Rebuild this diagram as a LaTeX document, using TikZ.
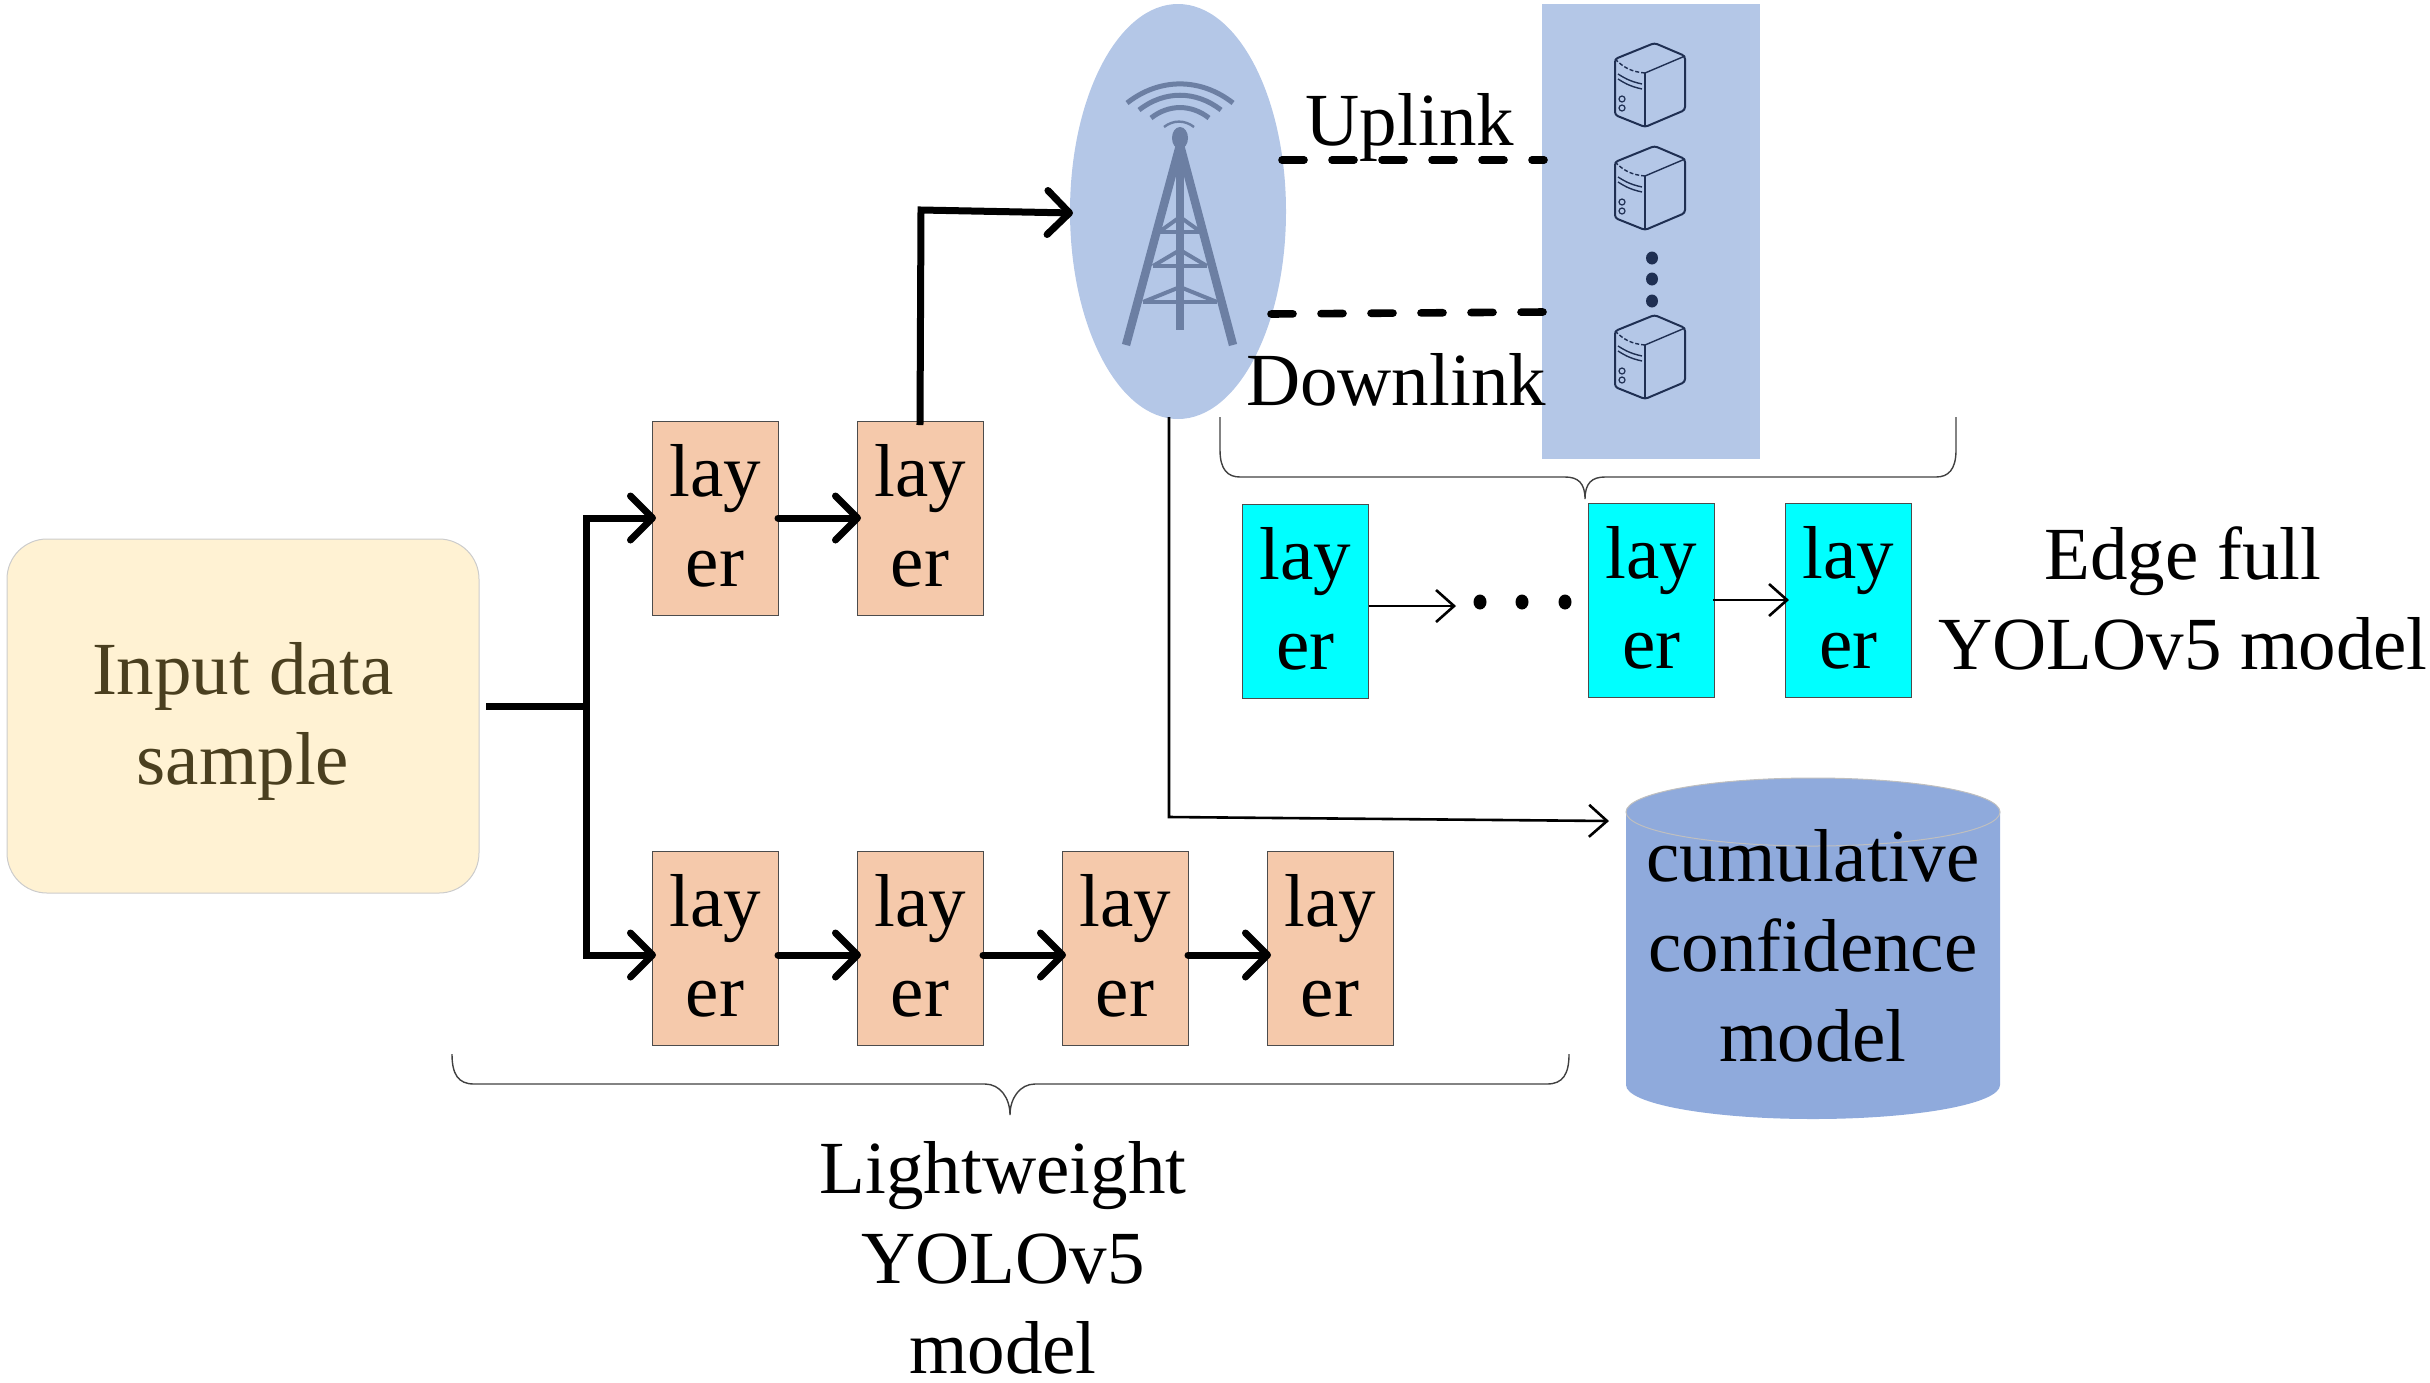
\documentclass[tikz,border=0pt]{standalone}
\usepackage{fontspec}
\setmainfont{Liberation Serif}
\usetikzlibrary{shapes.geometric, arrows.meta, positioning, calc}

\definecolor{LayerOrange}{HTML}{F5C9AB}
\definecolor{LayerCyan}{HTML}{00FFFF}
\definecolor{InputYellow}{HTML}{FFF2D3}
\definecolor{InputText}{HTML}{4A3F1F}
\definecolor{EdgeBlue}{HTML}{B4C7E7}
\definecolor{TowerBlue}{HTML}{6C7FA3}
\definecolor{ServerNavy}{HTML}{1F2F52}
\definecolor{DbBlue}{HTML}{8FAADC}

\newcommand{\layertext}{lay\\er\rule[-3pt]{0pt}{3pt}}

\tikzset{
	server/.pic={
		\draw[ServerNavy, line width=1pt, line join=round, rounded corners=1.5pt]
			(4.5,-42) -- (35,-29) -- (35,25) -- (-5,42) -- (-35,30) -- (-35,-26) -- cycle;
		\draw[ServerNavy, line width=.7pt] (-5,-12) -- (35,-29);
		\draw[ServerNavy, line width=.7pt] (-5,-12) -- (-5,42);
		\draw[ServerNavy, line width=.7pt, dash pattern=on 2pt off 1pt] (-35,-26) to[bend right=20] (-5,-12);
		\draw[ServerNavy, line width=.7pt] (-32,-11) to[bend right=10] (-8,-1);
		\draw[ServerNavy, line width=.7pt] (-32,-6) to[bend right=10] (-8,4);
		\draw[ServerNavy, line width=.6pt] (-28,14) circle (3);
		\draw[ServerNavy, line width=.6pt] (-28,23) circle (3);
	}
}

\begin{document}
\begin{tikzpicture}[
		x=0.5pt, y=-0.5pt,
		every node/.style={font=\fontsize{37.5}{45}\selectfont, inner sep=0pt, outer sep=0pt, align=center},
		BoldLine/.style={line width=3.5pt, line cap=round},
		BoldArrow/.style={line width=3.5pt, line cap=round, -{Straight Barb[length=11pt,width=22pt,round]}, shorten >=-2pt},
		ThinArrow/.style={line width=1.3pt, -{Straight Barb[length=9pt,width=16pt]}},
		DashLine/.style={line width=3.8pt, line cap=round, dash pattern=on 11pt off 14pt},
		BraceLine/.style={line width=.7pt, black!75},
		TowerLine/.style={TowerBlue, line width=2pt},
		WaveLine/.style={TowerBlue, line width=2pt, bend left=38}
	]
	\tikzstyle{LayerNode} = [ %same box for both models
		rectangle,
		draw=black!70,
		line width=.5pt,
		minimum width=63pt,
		minimum height=97pt
	]
	\tikzstyle{OrangeNode} = [LayerNode, fill=LayerOrange]
	\tikzstyle{CyanNode} = [LayerNode, fill=LayerCyan]

	\useasboundingbox (0,0) rectangle (2430,1382);

	\node (inp) at (243,716) [rectangle, rounded corners=20pt, draw=black!20, line width=.5pt, fill=InputYellow, minimum width=236pt, minimum height=177pt, text=InputText] {\rule{0pt}{31pt}Input data\\sample};

	% lightweight model
	\node (u1) at (715,518) [OrangeNode] {\layertext};
	\node (u2) [OrangeNode, right = 39.5pt of u1] {\layertext};
	\node (b1) at (715,948) [OrangeNode] {\layertext};
	\node (b2) [OrangeNode, right = 39.5pt of b1] {\layertext};
	\node (b3) [OrangeNode, right = 39.5pt of b2] {\layertext};
	\node (b4) [OrangeNode, right = 39.5pt of b3] {\layertext};

	% tower and servers
	\node (bs) at (1178,211.5) [ellipse, fill=EdgeBlue, minimum width=108pt, minimum height=207.5pt] {};
	\node (srv) at (1651,231.5) [rectangle, fill=EdgeBlue, minimum width=109pt, minimum height=227.5pt] {};

	\draw[TowerLine, line width=4.2pt] (1180,145) -- (1126,345);
	\draw[TowerLine, line width=4.2pt] (1180,145) -- (1233,345);
	\draw[TowerLine, line width=4.2pt] (1180,145) -- (1180,330);
	\fill[TowerBlue] (1180,138) ellipse (8 and 11);
	\foreach \by/\bx/\bt in {232/21/217, 266/27/250, 302/37/287} {
		\draw[TowerLine] (1180-\bx,\by) -- (1180+\bx,\by);
		\draw[TowerLine] (1180-\bx,\by) -- (1180,\bt) -- (1180+\bx,\by);
	}
	\draw[WaveLine, line width=2.5pt] (1127,103) to (1233,103);
	\draw[WaveLine, line width=2.5pt] (1139,110) to (1221,110);
	\draw[WaveLine, line width=2.5pt] (1151,118) to (1209,118);
	\draw[WaveLine, line width=1.2pt] (1164,127) to (1194,127);

	\foreach \sy [count=\si] in {85,188,357}
		\pic (srv\si) at (1650,\sy) {server};
	\foreach \dy in {258,279,301}
		\fill[ServerNavy] (1652,\dy) ellipse (6 and 6.5);

	\node (uplink) at (1410,127) {Uplink};
	\node (downlink) at (1396,380) {Downlink};

	\coordinate (ul1) at (1282,160);
	\coordinate (ul2) at (1544,160);
	\coordinate (dl1) at (1271,314);
	\coordinate (dl2) at (1544,312);
	\draw[DashLine] (ul1) -- (ul2);
	\draw[DashLine] (dl1) -- (dl2);

	% edge model
	\node (e1) at (1305.5,601) [CyanNode] {\layertext};
	\node (e2) at (1651.5,600.5) [CyanNode] {\layertext};
	\node (e3) [CyanNode, right = 35.5pt of e2] {\layertext};
	\foreach \dx in {1480,1522,1565}
		\fill (\dx,602) ellipse (6.5 and 7.5);
	\coordinate (e1out) at (1456,606);
	\coordinate (e2a) at (1713,600);
	\coordinate (e2b) at (1789,600);
	\draw[ThinArrow] (e1.east |- e1out) -- (e1out);
	\draw[ThinArrow] (e2a) -- (e2b);
	\node (edgelbl) at (2183,598) {Edge full\\YOLOv5 model};

	% database
	\fill[DbBlue] (1626,812) -- (1626,1085) arc[start angle=180, end angle=0, x radius=187, y radius=34] -- (2000,812) -- cycle;
	\draw[black!25, line width=.5pt, fill=DbBlue] (1813,812) ellipse (187 and 34);
	\node (cumul) at (1813,946) {cumulative\\confidence\\model};

	% connectors
	\coordinate (j1) at (586,706);
	\draw[BoldLine, line cap=butt] (486,706) -- (j1);
	\draw[BoldArrow, line cap=butt] (j1) |- (u1.west);
	\draw[BoldArrow, line cap=butt] (j1) |- ([yshift=-3.5pt]b1.west);
	\draw[BoldArrow] (u1) -- (u2);
	\draw[BoldArrow] ([yshift=-3.5pt]b1.east) -- ([yshift=-3.5pt]b2.west);
	\draw[BoldArrow] ([yshift=-3.5pt]b2.east) -- ([yshift=-3.5pt]b3.west);
	\draw[BoldArrow] ([yshift=-3.5pt]b3.east) -- ([yshift=-3.5pt]b4.west);
	\coordinate (up1) at (921,210);
	\coordinate (up2) at (1073,213);
	\draw[line width=3.5pt, line cap=butt, -{Straight Barb[length=11pt,width=22pt,round]}, shorten <=-2pt] (u2.north) -- (up1) -- (up2);
	\coordinate (cc0) at (1169,417);
	\coordinate (cc1) at (1169,817);
	\coordinate (cc2) at (1609,821);
	\draw[ThinArrow] (cc0) -- (cc1) -- (cc2);

	% braces
	\draw[BraceLine] (1220,417) -- (1220,450) .. controls (1220,470) and (1228,477) .. (1240,477) -- (1565,477) .. controls (1578,477) and (1585,483) .. (1585,499) .. controls (1585,483) and (1592,477) .. (1605,477) -- (1936,477) .. controls (1948,477) and (1956,470) .. (1956,450) -- (1956,417);
	\draw[BraceLine] (452,1054) .. controls (452,1074) and (458,1084) .. (474,1084) -- (985,1084) .. controls (1000,1084) and (1010,1098) .. (1010,1115) .. controls (1010,1098) and (1020,1084) .. (1035,1084) -- (1547,1084) .. controls (1563,1084) and (1569,1074) .. (1569,1054);
	\node (lwlbl) at (1003,1258) {Lightweight\\YOLOv5\\model};
\end{tikzpicture}
\end{document}
